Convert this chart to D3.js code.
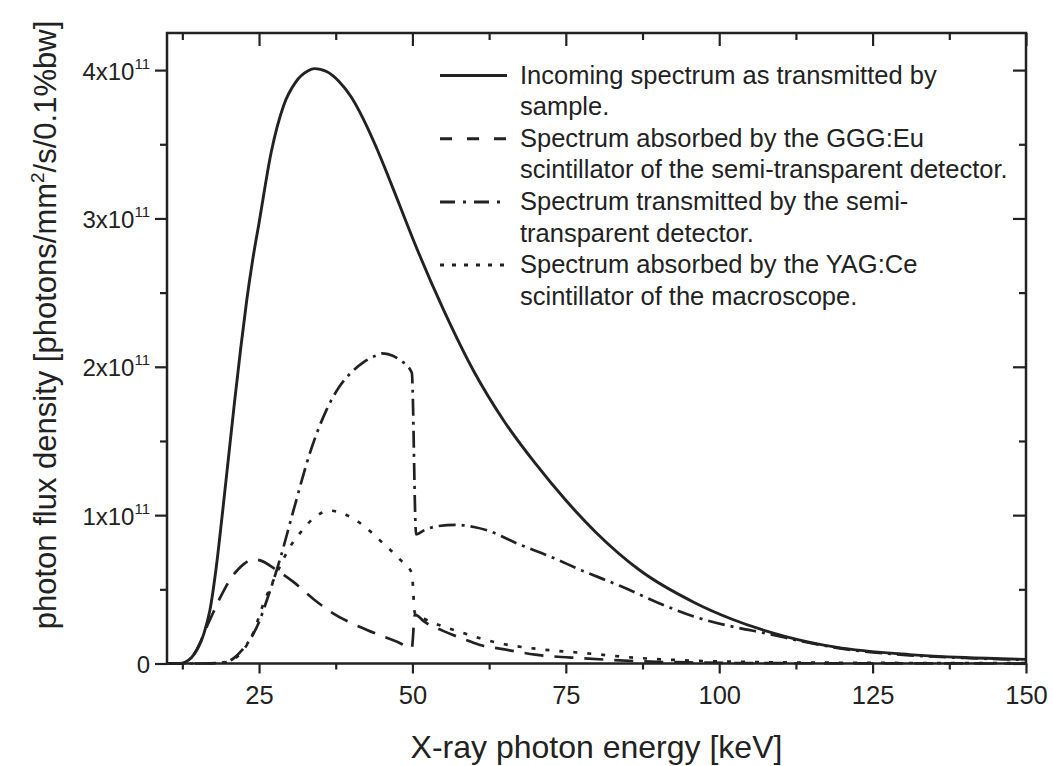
<!DOCTYPE html>
<html>
<head>
<meta charset="utf-8">
<script src="https://cdn.jsdelivr.net/npm/d3@7"></script>
<style>
	body { margin: 0; background: #fff; }
	svg { display: block; font-family: "Liberation Sans", Arial, sans-serif; }
	.tick text { fill: #222; }
</style>
</head>
<body>
<svg id="chart"></svg>
<script>
// photon flux, in units of 1e11 photons/mm^2/s/0.1%bw
const incoming_e = [10, 12, 13, 14, 15, 16, 17, 18, 19, 20, 21, 22, 23, 24, 25, 27, 29, 31, 33, 34, 35, 36, 38, 40, 42, 44, 46, 48, 50, 55, 60, 65, 70, 75, 80, 87, 96, 102, 111, 119, 131, 140, 150];
const incoming_v = [0, 0, 0.01, 0.04, 0.1, 0.2, 0.36, 0.64, 1.0, 1.38, 1.76, 2.12, 2.45, 2.73, 2.97, 3.45, 3.76, 3.92, 3.995, 4.01, 4.005, 3.99, 3.925, 3.82, 3.67, 3.49, 3.29, 3.08, 2.87, 2.39, 1.97, 1.63, 1.35, 1.1, 0.88, 0.63, 0.41, 0.3, 0.18, 0.11, 0.06, 0.04, 0.028];

const ggg_e = [10, 12.5, 13.5, 14.5, 15.5, 16.5, 17.5, 18.5, 19.5, 20.5, 21.5, 22.5, 24, 25.5, 27.5, 30.6, 34, 37, 42.6, 47.5, 49.9, 50.4, 52, 55, 58, 61, 65, 70, 78, 87, 95, 110, 150];
const ggg_v = [0, 0, 0.02, 0.07, 0.15, 0.25, 0.34, 0.43, 0.51, 0.58, 0.63, 0.67, 0.702, 0.69, 0.64, 0.55, 0.43, 0.34, 0.226, 0.147, 0.105, 0.33, 0.28, 0.22, 0.17, 0.125, 0.095, 0.06, 0.035, 0.015, 0.007, 0.002, 0];

const trans_e = [10, 16, 18, 20, 21, 22, 23.5, 25, 26.3, 28.4, 30.6, 33.3, 36, 38, 40, 42, 44, 45, 46, 48, 49.9, 50.6, 52, 54, 57, 60, 62, 67, 72.5, 78, 84, 90, 96, 102, 108, 114, 120, 131, 140, 150];
const trans_v = [0, 0, 0.003, 0.015, 0.04, 0.08, 0.16, 0.28, 0.43, 0.7, 1.03, 1.42, 1.71, 1.86, 1.96, 2.03, 2.075, 2.09, 2.085, 2.045, 1.96, 0.87, 0.9, 0.925, 0.935, 0.92, 0.9, 0.81, 0.72, 0.62, 0.52, 0.41, 0.315, 0.25, 0.2, 0.145, 0.1, 0.055, 0.037, 0.024];

const yag_e = [10, 18, 20, 22, 24, 25.7, 27.9, 30.1, 31.7, 33.9, 36.6, 39.3, 42, 44.7, 48, 49.9, 50.4, 52, 55, 58, 61, 65, 70, 78, 87, 95, 105, 120, 150];
const yag_v = [0, 0, 0.012, 0.07, 0.2, 0.4, 0.61, 0.79, 0.88, 0.98, 1.03, 1.0, 0.93, 0.83, 0.7, 0.61, 0.34, 0.3, 0.25, 0.21, 0.17, 0.13, 0.1, 0.07, 0.037, 0.02, 0.01, 0.005, 0.002];

const x_major = [25, 50, 75, 100, 125, 150];
const x_minor = [12.5, 37.5, 62.5, 87.5, 112.5, 137.5];
const y_major = [0, 1, 2, 3, 4];
const y_minor = [0.5, 1.5, 2.5, 3.5];

const legend_lines = [
	['Incoming spectrum as transmitted by', 'sample.'],
	['Spectrum absorbed by the GGG:Eu', 'scintillator of the semi-transparent detector.'],
	['Spectrum transmitted by the semi-', 'transparent detector.'],
	['Spectrum absorbed by the YAG:Ce', 'scintillator of the macroscope.']
];

const WIDTH = 1053;
const HEIGHT = 766;
const INK = '#222';

const series = [
	{e: incoming_e, v: incoming_v, dash: null, legendDash: null, width: 2.9},
	{e: ggg_e, v: ggg_v, dash: '19,11', legendDash: '12,15', width: 2.7},
	{e: trans_e, v: trans_v, dash: '17,6,3,6', legendDash: '15,8,3,8', width: 2.7},
	{e: yag_e, v: yag_v, dash: '4,10', legendDash: '4,8', width: 2.7}
];

const svg = d3.select('#chart')
	.attr('width', WIDTH)
	.attr('height', HEIGHT);

svg.append('rect').attr('width', WIDTH).attr('height', HEIGHT).attr('fill', '#fff');

const x = d3.scaleLinear().domain([10, 150]).range([167, 1026]);
const y = d3.scaleLinear().domain([0, 4.25]).range([663.5, 33]);

const line = d3.line()
	.x(d => x(d[0]))
	.y(d => y(d[1]))
	.curve(d3.curveMonotoneX);

const plot = svg.append('g');
series.forEach(s => {
	plot.append('path')
		.datum(s.e.map((e, i) => [e, s.v[i]]))
		.attr('d', line)
		.attr('fill', 'none')
		.attr('stroke', INK)
		.attr('stroke-width', s.width)
		.attr('stroke-dasharray', s.dash);
});

// axes: outward ticks on bottom/left, inward on top/right
const styleAxis = g => {
	g.select('.domain').remove();
	g.selectAll('.tick line').attr('stroke', INK).attr('stroke-width', 2.2);
};

svg.append('g')
	.attr('transform', `translate(0,${y(0)})`)
	.call(d3.axisBottom(x).tickValues(x_major).tickSize(10).tickPadding(12))
	.call(styleAxis)
	.call(g => g.selectAll('.tick text').attr('font-size', 25.5).attr('font-family', '"Liberation Sans", Arial'));
svg.append('g')
	.attr('transform', `translate(0,${y(0)})`)
	.call(d3.axisBottom(x).tickValues(x_minor).tickSize(6).tickFormat(''))
	.call(styleAxis);

svg.append('g')
	.attr('transform', `translate(0,${y.range()[1]})`)
	.call(d3.axisTop(x).tickValues(x_major).tickSize(-13).tickFormat(''))
	.call(styleAxis);
svg.append('g')
	.attr('transform', `translate(0,${y.range()[1]})`)
	.call(d3.axisTop(x).tickValues(x_minor).tickSize(-7).tickFormat(''))
	.call(styleAxis);

const left = svg.append('g')
	.attr('transform', `translate(${x(10)},0)`)
	.call(d3.axisLeft(y).tickValues(y_major).tickSize(12).tickFormat(''))
	.call(styleAxis);
svg.append('g')
	.attr('transform', `translate(${x(10)},0)`)
	.call(d3.axisLeft(y).tickValues(y_minor).tickSize(7).tickFormat(''))
	.call(styleAxis);

left.selectAll('.tick').each(function(d) {
	const t = d3.select(this).append('text')
		.attr('x', -17)
		.attr('y', 9)
		.attr('text-anchor', 'end')
		.attr('font-size', 24)
		.attr('fill', INK);
	if (d === 0) {
		t.text('0');
	} else {
		t.append('tspan').text(`${d}x10`);
		t.append('tspan').attr('dy', -11).attr('font-size', 15).text('11');
	}
});

svg.append('g')
	.attr('transform', `translate(${x(150)},0)`)
	.call(d3.axisRight(y).tickValues(y_major).tickSize(-13).tickFormat(''))
	.call(styleAxis);
svg.append('g')
	.attr('transform', `translate(${x(150)},0)`)
	.call(d3.axisRight(y).tickValues(y_minor).tickSize(-7).tickFormat(''))
	.call(styleAxis);

// frame
svg.append('rect')
	.attr('x', x(10))
	.attr('y', y(4.25))
	.attr('width', x(150) - x(10))
	.attr('height', y(0) - y(4.25))
	.attr('fill', 'none')
	.attr('stroke', INK)
	.attr('stroke-width', 2.5);

// axis titles
svg.append('text')
	.attr('x', (x(10) + x(150)) / 2)
	.attr('y', 758)
	.attr('text-anchor', 'middle')
	.attr('font-size', 32)
	.attr('fill', INK)
	.text('X-ray photon energy [keV]');

const ytitle = svg.append('text')
	.attr('transform', 'translate(56,325) rotate(-90)')
	.attr('text-anchor', 'middle')
	.attr('font-size', 31)
	.attr('fill', INK);
ytitle.append('tspan').text('photon flux density [photons/mm');
ytitle.append('tspan').attr('dy', -12).attr('font-size', 19).text('2');
ytitle.append('tspan').attr('dy', 12).text('/s/0.1%bw]');

// legend
const legend = svg.append('g');
const ROW = 31.6;
legend_lines.forEach((rows, i) => {
	const base = 83.5 + i * 2 * ROW;
	legend.append('line')
		.attr('x1', 440).attr('x2', 507)
		.attr('y1', base - 8).attr('y2', base - 8)
		.attr('stroke', INK)
		.attr('stroke-width', 3)
		.attr('stroke-dasharray', series[i].legendDash);
	rows.forEach((r, j) => {
		legend.append('text')
			.attr('x', 520)
			.attr('y', base + j * ROW)
			.attr('font-size', 25.5)
			.attr('fill', INK)
			.text(r);
	});
});
</script>
</body>
</html>
